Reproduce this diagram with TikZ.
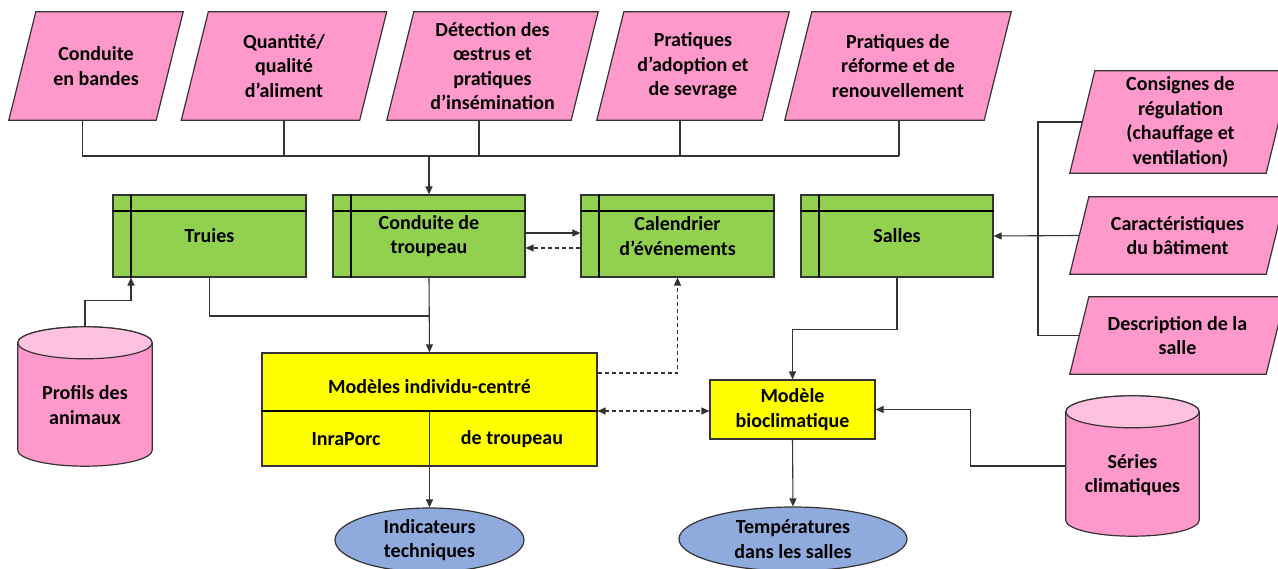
\documentclass[tikz,border=0pt]{standalone}
\usepackage{fontspec}
\setmainfont{Carlito}
\usetikzlibrary{shapes.geometric,arrows.meta,calc,backgrounds}
\definecolor{pinkf}{HTML}{FF99CC}
\definecolor{pinkl}{HTML}{FFC1E0}
\definecolor{greenf}{HTML}{92D050}
\definecolor{yellowf}{HTML}{FFFF00}
\definecolor{bluef}{HTML}{8FAADC}
\definecolor{edge}{HTML}{333333}
\newcommand\drawpara[2]{%
  \draw[pborder] ($(#1.south west)+(-#2,0)$) -- ($(#1.south east)+(-#2,0)$) --
    ($(#1.north east)+(#2,0)$) -- ($(#1.north west)+(#2,0)$) -- cycle;}
\newcommand\drawgreen[1]{%
  \draw[gline] ($(#1.north west)+(0,-17)$) -- ($(#1.north east)+(0,-17)$);
  \draw[gline] ($(#1.north west)+(19,0)$) -- ($(#1.south west)+(19,0)$);}
\newcommand\drawcyl[1]{%
  \path let \p1=(#1.north west), \p2=(#1.south east) in
    [draw=edge, line width=1.2pt, fill=pinkf]
    (\x1,\y1-16pt) -- (\x1,\y2+16pt) arc[start angle=180, end angle=360, x radius={(\x2-\x1)/2}, y radius=16pt]
    -- (\x2,\y1-16pt) arc[start angle=0, end angle=180, x radius={(\x2-\x1)/2}, y radius=16pt] -- cycle;
  \path let \p1=(#1.north west), \p2=(#1.south east) in
    [draw=edge, line width=1.2pt, fill=pinkl] ({(\x1+\x2)/2},\y1-16pt) ellipse[x radius={(\x2-\x1)/2}, y radius=16pt];}
\begin{document}
\begin{tikzpicture}[x=1pt,y=1pt,
  txt/.style={font=\fontsize{20}{24.5}\selectfont\bfseries, align=center, inner sep=0pt, text=black},
  pbox/.style={txt, minimum height=#1},
  pborder/.style={draw=edge, line width=1.2pt, fill=pinkf},
  gbox/.style={txt, draw=edge, line width=1.2pt, fill=greenf, minimum width=193, minimum height=82},
  gline/.style={draw=black, line width=2pt},
  ybox/.style={draw=edge, line width=1.2pt, fill=yellowf},
  ell/.style={txt, ellipse, draw=edge, line width=1.2pt, fill=bluef, minimum height=64},
  conn/.style={draw=black!80, line width=1.1pt, -{Triangle[length=8pt,width=7pt]}},
  plain/.style={draw=black!80, line width=1.1pt},
  dconn/.style={conn, dash pattern=on 4pt off 3pt}]
\useasboundingbox (0,0) rectangle (1278,-569);

% top parallelograms
\node[pbox=108, minimum width=147] (p1) at (96,-66) {Conduite\\en bandes};
\node[pbox=108, minimum width=178] (p2) at (284,-66) {Quantité/\\qualité\\d’aliment};
\node[pbox=108, minimum width=184] (p3) at (492.5,-66) {Détection des\\œstrus et\\pratiques\\d’insémination};
\node[pbox=108, minimum width=165] (p4) at (693,-66) {Pratiques\\d’adoption et\\de sevrage};
\node[pbox=108, minimum width=199] (p5) at (898,-66) {Pratiques de\\réforme et de\\renouvellement};

% right parallelograms
\node[pbox=102, minimum width=196] (cons) at (1180.5,-122) {Consignes de\\régulation\\(chauffage et\\ventilation)};
\node[pbox=77, minimum width=196] (car) at (1177.5,-235.5) {Caractéristiques\\du bâtiment};
\node[pbox=77, minimum width=196] (desc) at (1177.5,-335.5) {Description de la\\salle};

\begin{pgfonlayer}{background}
\fill[white] (0,0) rectangle (1278,-569);
\drawpara{p1}{13.5}\drawpara{p2}{13.5}\drawpara{p3}{13.5}\drawpara{p4}{13.5}\drawpara{p5}{13.5}
\drawpara{cons}{12.5}\drawpara{car}{9.5}\drawpara{desc}{9.5}
\end{pgfonlayer}

% green boxes
\node[gbox] (truies) at (209.5,-236) {};
\node[gbox, minimum width=192] (ct) at (429,-236) {};
\node[gbox] (cal) at (677.5,-236) {};
\node[gbox, minimum width=192] (salles) at (897,-236) {};
\drawgreen{truies}\drawgreen{ct}\drawgreen{cal}\drawgreen{salles}
\node[txt] (truiest) at (truies.center) {Truies};
\node[txt] (ctt) at (ct.center) {Conduite de\\troupeau};
\node[txt] (calt) at (cal.center) {Calendrier\\d’événements};
\node[txt] (sallest) at (salles.center) {Salles};

% yellow boxes
\node[ybox, minimum width=335, minimum height=113] (mic) at (429.5,-409.5) {};
\draw[line width=2pt] ($(mic.west)+(0,-1.5)$) -- ($(mic.east)+(0,-1.5)$);
\draw[plain] ($(mic.center)+(0,-1.5)$) -- (mic.south);
\node[txt] (mict) at (429.5,-387) {Modèles individu-centré};
\node[txt] (inra) at (346,-439) {InraPorc};
\node[txt] (detr) at (512,-439) {de troupeau};
\node[txt, ybox, minimum width=165, minimum height=59] (bio) at (792.5,-409.5) {Modèle\\bioclimatique};

% cylinders
\node[minimum width=134, minimum height=139, inner sep=0pt] (prof) at (85,-396.5) {};
\node[minimum width=133, minimum height=140, inner sep=0pt] (ser) at (1132.5,-466) {};
\drawcyl{prof}\drawcyl{ser}
\node[txt] (proft) at (85,-405) {Profils des\\animaux};
\node[txt] (sert) at (1132.5,-475) {Séries\\climatiques};

% ellipses
\node[ell, minimum width=189] (ind) at (429.5,-540) {Indicateurs\\techniques};
\node[ell, minimum width=228] (temp) at (793,-539) {Températures\\dans les salles};

% top bus
\coordinate (b5) at (899,-156);
\draw[plain] ([xshift=-13.5]p1.south) |- (b5);
\draw[plain] (p2.south) -- (p2.south |- b5);
\draw[plain] ([xshift=-13.5]p3.south) -- ([xshift=-13.5]p3.south |- b5);
\draw[plain] ([xshift=-13]p4.south) -- ([xshift=-13]p4.south |- b5);
\draw[plain] (b5 |- p5.south) -- (b5);
\draw[conn] (ct.north |- b5) -- (ct.north);

% right bus
\coordinate (vb1) at (1038,-122);
\coordinate (vb2) at (1038,-335.5);
\draw[plain] (cons.west) -- (vb1) -- (vb2) -- (desc.west);
\draw[conn] (car.west) -- (salles.east);

% green links
\draw[conn] ([yshift=3]ct.east) -- ([yshift=3]cal.west);
\draw[dconn] ([yshift=-12]cal.west) -- ([yshift=-12]ct.east);
\draw[plain] (truies.south) |- (429,-316);
\draw[conn] (ct.south) -- (mic.north);
\draw[conn] (prof.north) -- ++(0,26) -| ([xshift=-78.5]truies.south);
\draw[dconn] ([yshift=36.5]mic.east) -| (cal.south);
\draw[dconn, {Triangle[length=8pt,width=7pt]}-{Triangle[length=8pt,width=7pt]}] ([yshift=-1.5]mic.east) -- ([yshift=-1.5]bio.west);
\draw[conn] (salles.south) -- ++(0,-52) -| (bio.north);
\draw[conn] (ser.west) -- ++(-95,0) |- (bio.east);
\draw[conn] (bio.south) -- (temp.north);
\draw[conn] (mic.south) -- (ind.north);
\end{tikzpicture}
\end{document}
